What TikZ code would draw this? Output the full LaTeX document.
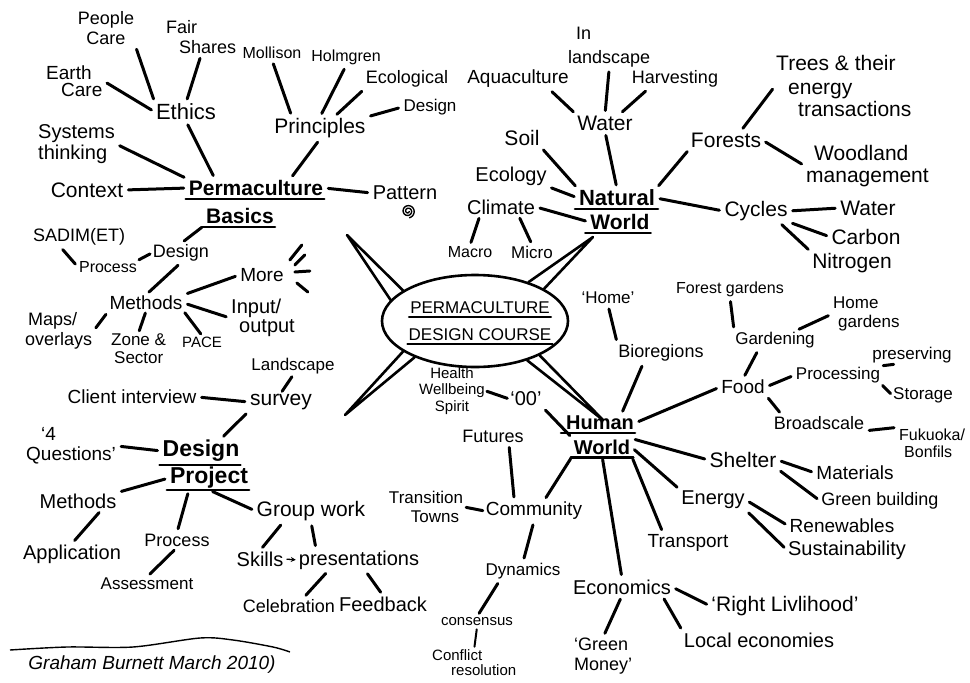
\documentclass[tikz,border=0pt]{standalone}
\usepackage{fontspec}
\setmainfont{Liberation Sans}
\usetikzlibrary{calc,shapes.geometric,arrows.meta}
\begin{document}
\begin{tikzpicture}[x=1pt,y=-1pt,
  fs/.style={font={\pgfmathsetmacro\fsbl{#1*1.08}\fontsize{#1}{\fsbl}\selectfont}},
  head/.style={font={\pgfmathsetmacro\fsbl{#1*1.08}\fontsize{#1}{\fsbl}\selectfont\bfseries}},
  every node/.style={inner sep=1pt, align=center, fs=19},
  con/.style={line width=3pt, line cap=round, shorten <=4pt, shorten >=4pt},
  burst/.style={line width=3pt, line cap=round},
  ulline/.style={line width=2.4pt, line cap=round},
  wedge/.style={line width=2.6pt, line join=round, line cap=round},
  arrowcon/.style={line width=1.3pt, -{Stealth[length=5pt,width=5pt]}, shorten <=2pt, shorten >=2pt},
]
\useasboundingbox (0,0) rectangle (970,683);
\fill[white] (0,0) rectangle (970,683);

% ---------------- Permaculture Basics branch ----------------
\node[fs=18] (people) at (106,28) {People\\Care};
\node[fs=18,anchor=west,align=left] (fair) at (165,37) {Fair\\\hspace*{13pt}Shares};
\node[fs=19,anchor=west,align=left] (earth) at (45,81) {Earth\\[-3pt]\hspace*{15pt}Care};
\node[fs=22] (ethics) at (186,112) {Ethics};
\node[fs=16] (mollison) at (272,53) {Mollison};
\node[fs=16] (holmgren) at (346,57) {Holmgren};
\node[fs=18] (ecol) at (407,79) {Ecological};
\node[fs=17] (designp) at (430,107) {Design};
\node[fs=21] (principles) at (320,128) {Principles};
\node[fs=20,anchor=west,align=left] (systems) at (37,144) {Systems\\thinking};
\node[fs=21] (context) at (87,190) {Context};
\node[head=21] (pbA) at (256,188) {Permaculture};
\node[head=21] (pbB) at (240,216) {Basics};
\node[fs=20] (pattern) at (405,193) {Pattern};
\node[fs=18] (sadim) at (79,237) {SADIM(ET)};
\node[fs=16] (process1) at (108,267) {Process};
\node[fs=18] (design1) at (181,253) {Design};
\node[fs=19] (methods1) at (146,303) {Methods};
\node[fs=19] (more) at (262,275) {More};
\node[fs=20,anchor=west,align=left] (input) at (230,318) {Input/\\[-3pt]\hspace*{8pt}output};
\node[fs=18,anchor=west,align=left] (maps) at (24,331) {\hspace*{3pt}Maps/\\overlays};
\node[fs=17,anchor=west,align=left] (zone) at (110,349) {Zone \&\\\hspace*{3pt}Sector};
\node[fs=15] (pace) at (202,342) {PACE};
\node[fs=17] (landscape1) at (293,366) {Landscape};
\node[fs=19] (client) at (132,397) {Client interview};
\node[fs=21] (survey) at (281,402) {survey};

% ---------------- Design Project branch ----------------
\node[head=23] (dpA) at (201,451) {Design};
\node[head=23] (dpB) at (209,478) {Project};
\node[fs=19,anchor=west,align=left] (q4) at (25,446) {\hspace*{15pt}`4\\[-1pt]Questions'};
\node[fs=20] (methods2) at (78,501) {Methods};
\node[fs=20] (application) at (72,554) {Application};
\node[fs=18] (process2) at (177,540) {Process};
\node[fs=17] (assessment) at (147,584) {Assessment};
\node[fs=21] (group) at (311,511) {Group work};
\node[fs=20] (skills) at (260,559) {Skills};
\node[fs=20] (present) at (359,560) {presentations};
\node[fs=18] (celebration) at (289,606) {Celebration};
\node[fs=20] (feedback) at (383,604) {Feedback};
\node[font={\fontsize{19}{21}\selectfont\itshape}] (sig) at (152,665) {Graham Burnett March 2010)};

% ---------------- Centre ----------------
\node[draw, ellipse, line width=2.6pt, minimum width=186pt, minimum height=92pt, inner sep=0pt] (title) at (475,321) {};
\node[fs=17] (ttlA) at (480,308) {PERMACULTURE};
\node[fs=17] (ttlB) at (480,335) {DESIGN COURSE};

% ---------------- Natural World branch ----------------
\node[head=22] (nwA) at (617,198) {Natural};
\node[head=21] (nwB) at (620,222) {World};
\node[fs=19] (aqua) at (518,79) {Aquaculture};
\node[fs=18,anchor=west,align=left] (inland) at (567,47) {\hspace*{8pt}In\\[4pt]landscape};
\node[fs=18] (harvest) at (675,79) {Harvesting};
\node[fs=21] (water1) at (605,123) {Water};
\node[fs=21] (soil) at (522,138) {Soil};
\node[fs=20] (ecology) at (511,176) {Ecology};
\node[fs=20] (climate) at (501,207) {Climate};
\node[fs=16] (macro) at (470,252) {Macro};
\node[fs=17] (micro) at (532,252) {Micro};
\node[fs=21] (forests) at (726,140) {Forests};
\node[fs=21,anchor=west,align=left] (trees) at (775,86) {Trees \& their\\[1pt]\hspace*{12pt}energy\\[0pt]\hspace*{22pt}transactions};
\node[fs=21,anchor=west,align=left] (woodland) at (805,166) {\hspace*{8pt}Woodland\\management};
\node[fs=21] (cycles) at (756,211) {Cycles};
\node[fs=21] (water2) at (868,208) {Water};
\node[fs=21] (carbon) at (866,237) {Carbon};
\node[fs=21] (nitrogen) at (852,263) {Nitrogen};

% ---------------- Human World branch ----------------
\node[head=20] (hwA) at (600,423) {Human};
\node[head=20] (hwB) at (602,447) {World};
\node[fs=17] (home) at (608,298) {`Home'};
\node[fs=18] (bioregions) at (661,353) {Bioregions};
\node[fs=16] (forestg) at (730,289) {Forest gardens};
\node[fs=17,anchor=west,align=left] (homeg) at (832,314) {Home\\\hspace*{5pt}gardens};
\node[fs=17] (gardening) at (775,340) {Gardening};
\node[fs=19] (food) at (743,387) {Food};
\node[fs=17] (processing) at (838,375) {Processing};
\node[fs=17] (preserving) at (912,355) {preserving};
\node[fs=17] (storage) at (923,395) {Storage};
\node[fs=18] (broadscale) at (819,423) {Broadscale};
\node[fs=16,anchor=west,align=left] (fukuoka) at (898,443) {Fukuoka/\\\hspace*{5pt}Bonfils};
\node[fs=21] (shelter) at (743,460) {Shelter};
\node[fs=19] (materials) at (855,473) {Materials};
\node[fs=18] (greenb) at (880,501) {Green building};
\node[fs=20] (energy) at (713,500) {Energy};
\node[fs=19] (renew) at (842,526) {Renewables};
\node[fs=20] (sustain) at (847,550) {Sustainability};
\node[fs=19] (transport) at (688,543) {Transport};
\node[fs=20] (economics) at (622,587) {Economics};
\node[fs=21] (right) at (785,606) {`Right Livlihood'};
\node[fs=18,anchor=west,align=left] (greenm) at (573,656) {`Green\\Money'};
\node[fs=20] (local) at (759,640) {Local economies};
\node[fs=19] (community) at (534,511) {Community};
\node[fs=17] (transition) at (426,507) {Transition\\\hspace*{18pt}Towns};
\node[fs=17] (dynamics) at (523,571) {Dynamics};
\node[fs=15] (consensus) at (477,622) {consensus};
\node[fs=15,anchor=west,align=left] (conflict) at (431,663) {Conflict\\[-1pt]\hspace*{19pt}resolution};
\node[fs=18] (futures) at (493,436) {Futures};
\node[fs=20] (oo) at (526,399) {`00'};
\node[fs=15] (health) at (452,391) {Health\\[0.5pt]Wellbeing\\[0.5pt]Spirit};

% ---------------- underlines ----------------
\draw[ulline] ([xshift=-2pt,yshift=-2pt]pbA.south west) -- ([yshift=-2pt]pbA.south east);
\draw[ulline] ([xshift=-3pt,yshift=-2pt]pbB.south west) -- ([yshift=-2pt]pbB.south east);
\draw[ulline] ([xshift=-3pt,yshift=-2pt]nwA.south west) -- ([xshift=2pt,yshift=-2pt]nwA.south east);
\draw[ulline] ([xshift=-4pt,yshift=-2pt]nwB.south west) -- ([yshift=-2pt]nwB.south east);
\draw[ulline] ([xshift=-4pt,yshift=-2pt]hwA.south west) -- ([yshift=-2pt]hwA.south east);
\draw[ulline] ([xshift=-2pt,yshift=-2pt]hwB.south west) -- ([xshift=2pt,yshift=-2pt]hwB.south east);
\draw[ulline] ([xshift=-2pt,yshift=-2pt]dpA.south west) -- ([yshift=-2pt]dpA.south east);
\draw[ulline] ([xshift=-2pt,yshift=0pt]dpB.south west) -- ([yshift=0pt]dpB.south east);
\draw[ulline] ([yshift=-2pt]ttlA.south west) -- ([yshift=-2pt]ttlA.south east);
\draw[ulline] ([yshift=-2pt]ttlB.south west) -- ([yshift=-2pt]ttlB.south east);

% ---------------- centre wedges ----------------
\coordinate (tipUL) at (347,235);
\coordinate (tipUR) at (593,237);
\coordinate (tipLL) at (345,415);
\coordinate (tipLR) at (603,420);
\draw[wedge] (title.157) -- (tipUL) -- (title.166);
\draw[wedge] (title.25) -- (tipUR) -- (title.36);
\draw[wedge] (title.203) -- (tipLL) -- (title.211);
\draw[wedge] (title.323) -- (tipLR) -- (title.332);

% ---------------- connectors: Permaculture Basics ----------------
\draw[con] (people.south east) -- (ethics.north west);
\draw[con] (fair.south) -- (ethics.north);
\draw[con] (earth.east) -- (ethics.west);
\draw[con] (ethics.south) -- ($(pbA.north west)!0.2!(pbA.north east)$);
\draw[con] (mollison.south) -- ($(principles.north west)!0.2!(principles.north east)$);
\draw[con] (holmgren.south) -- (principles.north);
\draw[con] (ecol.south west) -- ($(principles.north)!0.3!(principles.north east)$);
\draw[con] (designp.west) -- (principles.north east);
\draw[con] (principles.south) -- ($(pbA.north)!0.5!(pbA.north east)$);
\draw[con] (systems.east) -- (pbA.north west);
\draw[con] (context.east) -- (pbA.west);
\draw[con] (pbA.east) -- (pattern.west);
\draw[con] (pbB.south west) -- (design1.north);
\draw[con] ($(sadim.south west)!0.3!(sadim.south east)$) -- (process1.west);
\draw[con,shorten <=1pt,shorten >=2pt] (process1.north east) -- (design1.west);
\draw[con] (design1.south) -- (methods1.north);
\draw[con] (methods1.north east) -- (more.west);
\draw[con] (methods1.east) -- (input.west);
\draw[con] (methods1.south west) -- (maps.east);
\draw[con,shorten <=2pt,shorten >=2pt] (methods1.south) -- (zone.north);
\draw[con,shorten <=2pt,shorten >=2pt] (methods1.south east) -- (pace.north);
\draw[burst] ($(more.east)+(17,-30)$) -- ++(-12,15);
\draw[burst] ($(more.east)+(20,-20)$) -- ++(-10,10);
\draw[burst] ($(more.east)+(10,-3)$) -- ++(15,-1);
\draw[burst] ($(more.east)+(12,8)$) -- ++(11,9);
\draw[con,shorten <=2pt,shorten >=2pt] (landscape1.south) -- (survey.north);
\draw[con] (client.east) -- (survey.west);
\draw[con] (survey.south west) -- ($(dpA.north)!0.5!(dpA.north east)$);
\begin{scope}[shift={($(pattern.south)+(3,10)$)}]
  \draw[line width=1.4pt] plot[domain=0:800, samples=80, smooth, variable=\t] ({(1+\t/140)*cos(\t)}, {(1+\t/140)*sin(\t)});
\end{scope}

% ---------------- connectors: Design Project ----------------
\draw[con] (q4.east) -- (dpA.west);
\draw[con] (dpB.west) -- (methods2.north east);
\draw[con] ($(methods2.south)!0.6!(methods2.south east)$) -- (application.north);
\draw[con] ($(dpB.south west)!0.5!(dpB.south)$) -- (process2.north);
\draw[con] (process2.south) -- (assessment.north);
\draw[con] (dpB.south) -- (group.west);
\draw[con] ($(group.south west)!0.25!(group.south east)$) -- (skills.north);
\draw[con] (group.south) -- ($(present.north west)!0.3!(present.north)$);
\draw[arrowcon] (skills.east) -- (present.west);
\draw[con] ($(present.south west)!0.25!(present.south east)$) -- ($(celebration.north)!0.3!(celebration.north east)$);
\draw[con] ($(present.south)!0.1!(present.south east)$) -- (feedback.north);
\draw[line width=1.4pt] plot[smooth] coordinates {(10,650) (67,647) (133,647) (200,638) (233,640) (273,647) (290,652)};

% ---------------- connectors: Natural World ----------------
\draw[con] ($(aqua.south)!0.6!(aqua.south east)$) -- (water1.north west);
\draw[con] (inland.south) -- (water1.north);
\draw[con] ($(harvest.south west)!0.2!(harvest.south east)$) -- ($(water1.north)!0.5!(water1.north east)$);
\draw[con] (water1.south) -- (nwA.north);
\draw[con] (soil.south east) -- (nwA.north west);
\draw[con] (ecology.south east) -- (nwA.west);
\draw[con] (climate.east) -- (nwB.west);
\draw[con,shorten <=3pt,shorten >=3pt] ($(climate.south west)!0.2!(climate.south east)$) -- (macro.north);
\draw[con,shorten <=3pt,shorten >=3pt] ($(climate.south)!0.5!(climate.south east)$) -- (micro.north);
\draw[con] (nwA.north east) -- (forests.south west);
\draw[con] ($(forests.north)!0.4!(forests.north east)$) -- (trees.west);
\draw[con] (forests.east) -- (woodland.west);
\draw[con] (nwA.east) -- (cycles.west);
\draw[con] (cycles.east) -- (water2.west);
\draw[con] (cycles.south east) -- (carbon.west);
\draw[con] ($(cycles.south)!0.7!(cycles.south east)$) -- (nitrogen.north west);

% ---------------- connectors: Human World ----------------
\draw[con] (home.south) -- (bioregions.north west);
\draw[con] ($(bioregions.south west)!0.3!(bioregions.south east)$) -- ($(hwA.north)!0.6!(hwA.north east)$);
\draw[con] (oo.south east) -- (hwB.north west);
\draw[con,shorten <=1pt,shorten >=2pt] (health.east) -- (oo.west);
\draw[con] ($(futures.south)!0.5!(futures.south east)$) -- ($(community.north west)!0.3!(community.north east)$);
\draw[con] (hwB.south west) -- ($(community.north)!0.2!(community.north east)$);
\draw[con,shorten <=2pt,shorten >=2pt] (transition.east) -- (community.west);
\draw[con] (community.south) -- (dynamics.north);
\draw[con] ($(dynamics.south west)!0.2!(dynamics.south east)$) -- (consensus.north);
\draw[con,line width=2pt,shorten <=2pt,shorten >=2pt] (consensus.south) -- (conflict.north);
\draw[con] (hwB.south) -- (economics.north);
\draw[con] (hwB.south east) -- ($(transport.north west)!0.2!(transport.north east)$);
\draw[con] (hwA.east) -- (food.west);
\draw[con] (hwB.north east) -- (shelter.west);
\draw[con] (hwB.east) -- (energy.north west);
\draw[con] ($(gardening.south west)!0.3!(gardening.south east)$) -- (food.north);
\draw[con] (forestg.south) -- (gardening.north west);
\draw[con] ($(gardening.north)!0.5!(gardening.north east)$) -- (homeg.west);
\draw[con] (food.east) -- (processing.west);
\draw[con,shorten <=2pt,shorten >=2pt] (processing.north east) -- ($(preserving.south west)!0.3!(preserving.south east)$);
\draw[con,shorten <=2pt,shorten >=2pt] (processing.south east) -- (storage.west);
\draw[con] (food.south east) -- ($(broadscale.north west)!0.1!(broadscale.north east)$);
\draw[con] (broadscale.south east) -- (fukuoka.north west);
\draw[con] (shelter.east) -- (materials.west);
\draw[con] (shelter.south east) -- (greenb.west);
\draw[con] (energy.east) -- (renew.west);
\draw[con] (energy.south east) -- (sustain.west);
\draw[con] (economics.east) -- (right.west);
\draw[con] (economics.south) -- (greenm.north);
\draw[con] ($(economics.south)!0.8!(economics.south east)$) -- (local.north west);
\end{tikzpicture}
\end{document}
